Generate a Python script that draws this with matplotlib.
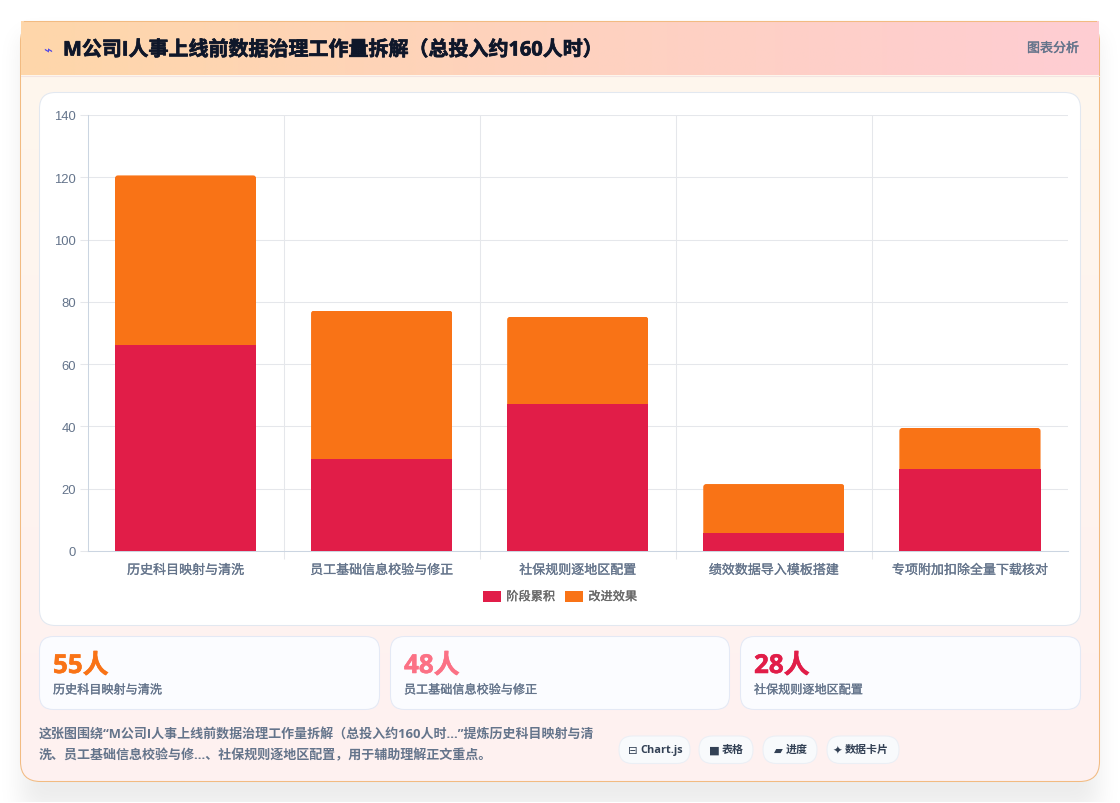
import numpy as np
import matplotlib
matplotlib.use('Agg')
import matplotlib.pyplot as plt
import matplotlib.patheffects as pe
from matplotlib.patches import FancyBboxPatch
from matplotlib.colors import to_rgb
from matplotlib.transforms import IdentityTransform

W, H = 1120, 804
CJK = ['Noto Sans CJK SC', 'DejaVu Sans']
MIXED = ['Open Sans', 'Noto Sans CJK SC', 'DejaVu Sans']
LATIN = ['Liberation Sans', 'DejaVu Sans']

title = 'M公司I人事上线前数据治理工作量拆解（总投入约160人时）'
badge = '图表分析'
categories = ['历史科目映射与清洗', '员工基础信息校验与修正', '社保规则逐地区配置',
              '绩效数据导入模板搭建', '专项附加扣除全量下载核对']
series_names = ['阶段累积', '改进效果']
stage_values = [66.2, 29.6, 47.3, 5.8, 26.4]
improve_values = [54.4, 47.6, 27.9, 15.7, 13.1]
y_ticks = [0, 20, 40, 60, 80, 100, 120, 140]

kpi_values = ['55人', '48人', '28人']
kpi_labels = ['历史科目映射与清洗', '员工基础信息校验与修正', '社保规则逐地区配置']
kpi_colors = ['#f97316', '#fb7185', '#e11d48']

note_lines = ['这张图围绕“M公司I人事上线前数据治理工作量拆解（总投入约160人时...”提炼历史科目映射与清',
              '洗、员工基础信息校验与修...、社保规则逐地区配置，用于辅助理解正文重点。']
pill_icons = ['⊟', '■', '▰', '✦']
pill_texts = ['Chart.js', '表格', '进度', '数据卡片']

RED = '#e11d48'
ORANGE = '#f97316'
GRID = '#e5e7eb'


def px(size):
    return size * 72 / 100


def thick(color, width=0.18):
    # fakes the slightly heavier weight the CJK family does not ship
    return [pe.withStroke(linewidth=width, foreground=color)]


def box_blur(a, r):
    # three box passes are close enough to a gaussian for a drop shadow
    k = np.ones(2 * r + 1) / (2 * r + 1)
    for _ in range(3):
        a = np.apply_along_axis(lambda v: np.convolve(v, k, mode='same'), 0, a)
        a = np.apply_along_axis(lambda v: np.convolve(v, k, mode='same'), 1, a)
    return a


def rounded(ax, x0, y0, x1, y1, r, **kw):
    p = FancyBboxPatch((x0 + r, y0 + r), x1 - x0 - 2 * r, y1 - y0 - 2 * r,
                       boxstyle='round,pad=%f,rounding_size=%f' % (r, r), **kw)
    ax.add_patch(p)
    return p


def gradient(ax, extent, c0, c1, vertical=False, clip=None, zorder=1):
    t = np.linspace(0, 1, 256)
    rgb = np.outer(1 - t, to_rgb(c0)) + np.outer(t, to_rgb(c1))
    img = rgb[:, None, :] if vertical else rgb[None, :, :]
    im = ax.imshow(img, extent=extent, aspect='auto', zorder=zorder, interpolation='bilinear')
    if clip is not None:
        im.set_clip_path(clip)
    return im


fig = plt.figure(figsize=(W / 100, H / 100), dpi=100, facecolor='white')

# page layer, everything here is laid out in pixels
bg = fig.add_axes([0, 0, 1, 1])
bg.axis('off')

# soft shadow under the card
yy, xx = np.mgrid[0:H + 80, 0:W + 80]
mask = ((xx > 60) & (xx < 1139) & (yy > 75) & (yy < 850)).astype(float)
shadow = box_blur(mask, 11)[40:H + 40, 40:W + 40]
shadow[802:, :] = 0
rgba = np.zeros((H, W, 4))
rgba[..., 3] = shadow * 0.075
bg.imshow(rgba, extent=(0, W, H, 0), aspect='auto', zorder=0)

# main card
card = rounded(bg, 20.5, 21.5, 1099.5, 781.5, 20, fc='none', ec='none', zorder=1)
gradient(bg, (20.5, 1099.5, 781.5, 21.5), '#fff7ed', '#fef1f1', vertical=True, clip=card)
rounded(bg, 20.5, 21.5, 1099.5, 781.5, 20, fc='none', ec='#f2bb82', lw=0.75, zorder=2)

# header strip
gradient(bg, (21, 1099, 75, 21), '#fed7aa', '#fecdd3', zorder=3)
bg.plot([24, 1096], [21, 21], color='#f2bb82', lw=0.75, zorder=4)
bg.plot([21, 1099], [75.5, 75.5], color='#f3e4e2', lw=0.75, zorder=4)
bg.set_xlim(0, W)
bg.set_ylim(H - 1, -1)

bg.text(47.5, 50, '⌁', fontsize=px(15), color='#4f46e5', ha='center', va='center',
        family=['DejaVu Sans'], zorder=5)
bg.text(63, 50.5, title, fontsize=px(20), fontweight='bold', color='#0f172a',
        va='center', family=MIXED, zorder=5, path_effects=thick('#0f172a', 0.5))
bg.text(1079, 48.5, badge, fontsize=px(13), fontweight='medium', color='#64748b',
        ha='right', va='center', family=CJK, zorder=5, path_effects=thick('#64748b', 0.3))

# white panel behind the chart
rounded(bg, 39.5, 92.5, 1080.5, 625.5, 16, fc='white', ec='#e2e8f0', lw=0.75, zorder=5)

# KPI cards
card_edges = [(39.5, 379.5), (390.5, 729.5), (740.5, 1080.5)]
for (x0, x1), val, lab, col in zip(card_edges, kpi_values, kpi_labels, kpi_colors):
    rounded(bg, x0, 636.5, x1, 709.5, 14, fc='#fbfcff', ec='#e4e9f5', lw=0.75, zorder=5)
    bg.text(x0 + 13.5, 673, val, fontsize=px(26), fontweight='bold', color=col,
            va='baseline', family=MIXED, zorder=6, path_effects=thick(col, 0.4))
    bg.text(x0 + 13.5, 690, lab, fontsize=px(12.1), fontweight='medium', color='#64748b',
            va='center', family=CJK, zorder=6, path_effects=thick('#64748b'))

# note below the cards
for y, line in zip([737, 758.5], note_lines):
    bg.text(39, y, line, fontsize=px(13), fontweight='bold', color='#64748b',
            va='baseline', family=MIXED, zorder=6)

# pills
pill_edges = [(619, 690), (699, 753), (763, 817), (827, 899)]
icon_offsets = [14, 15.5, 15, 10.5]
text_offsets = [21, 23, 23, 18]
for (x0, x1), icon, txt, io, to in zip(pill_edges, pill_icons, pill_texts, icon_offsets, text_offsets):
    rounded(bg, x0, 736, x1, 763.5, 13.5, fc='#f8fafc', ec='#ebeff5', lw=0.75, zorder=5)
    bg.text(x0 + io, 750, icon, fontsize=px(11.5), color='#334155', ha='center', va='center',
            family=['DejaVu Sans'], zorder=6)
    bg.text(x0 + to, 749.5, txt, fontsize=px(11), fontweight='bold', color='#334155',
            va='center', family=MIXED, zorder=6)

# stacked bars
left, right, top, bottom = 87.5, 1068, 116, 552
ax = fig.add_axes([left / W, 1 - bottom / H, (right - left) / W, (bottom - top) / H], zorder=2)
ax.patch.set_visible(False)

x = np.arange(len(categories))
ax.bar(x, stage_values, width=0.72, color=RED, label=series_names[0], zorder=3)
tops = ax.bar(x, improve_values, width=0.72, bottom=stage_values, color=ORANGE,
              label=series_names[1], zorder=3)

ax.set_xlim(-0.5, len(categories) - 0.5)
ax.set_ylim(0, 140)
ax.set_yticks(y_ticks)
ax.set_xticks(x)
ax.set_xticklabels(categories, fontsize=px(13), fontweight='medium', color='#64748b', family=CJK,
                   path_effects=thick('#64748b'))
ax.set_xticks(x[:-1] + 0.5, minor=True)
ax.tick_params(axis='x', which='major', length=0, pad=9.3)
ax.tick_params(axis='x', which='minor', length=5.8, width=0.75, color=GRID)
ax.tick_params(axis='y', length=5.8, width=0.75, color=GRID, pad=2.6,
               labelsize=px(13), labelcolor='#64748b')
for t in ax.get_yticklabels():
    t.set_family(LATIN)
ax.grid(True, axis='y', color=GRID, lw=0.75, zorder=0)
ax.grid(True, axis='x', which='minor', color=GRID, lw=0.75, zorder=0)
ax.set_axisbelow(True)
for side in ['top', 'right']:
    ax.spines[side].set_visible(False)
for side in ['left', 'bottom']:
    ax.spines[side].set_color('#cbd5e1')
    ax.spines[side].set_linewidth(0.75)

# round only the top corners of the upper segments
fig.canvas.draw()
for bar in tops:
    b = bar.get_window_extent()
    clip = FancyBboxPatch((b.x0 + 3, b.y0 - 6), b.width - 6, b.height + 3,
                          boxstyle='round,pad=3,rounding_size=3', transform=IdentityTransform())
    bar.set_clip_path(clip)

leg = ax.legend(loc='center', bbox_to_anchor=(0.4822, -0.105), ncol=2, frameon=False,
                prop={'family': CJK, 'size': px(12.2), 'weight': 'medium'},
                labelcolor='#666666', handlelength=1.47, handleheight=1.0,
                handletextpad=0.42, columnspacing=0.82, borderpad=0, borderaxespad=0)
for t in leg.get_texts():
    t.set_path_effects(thick('#666666'))

fig.savefig('out.png', dpi=100)
